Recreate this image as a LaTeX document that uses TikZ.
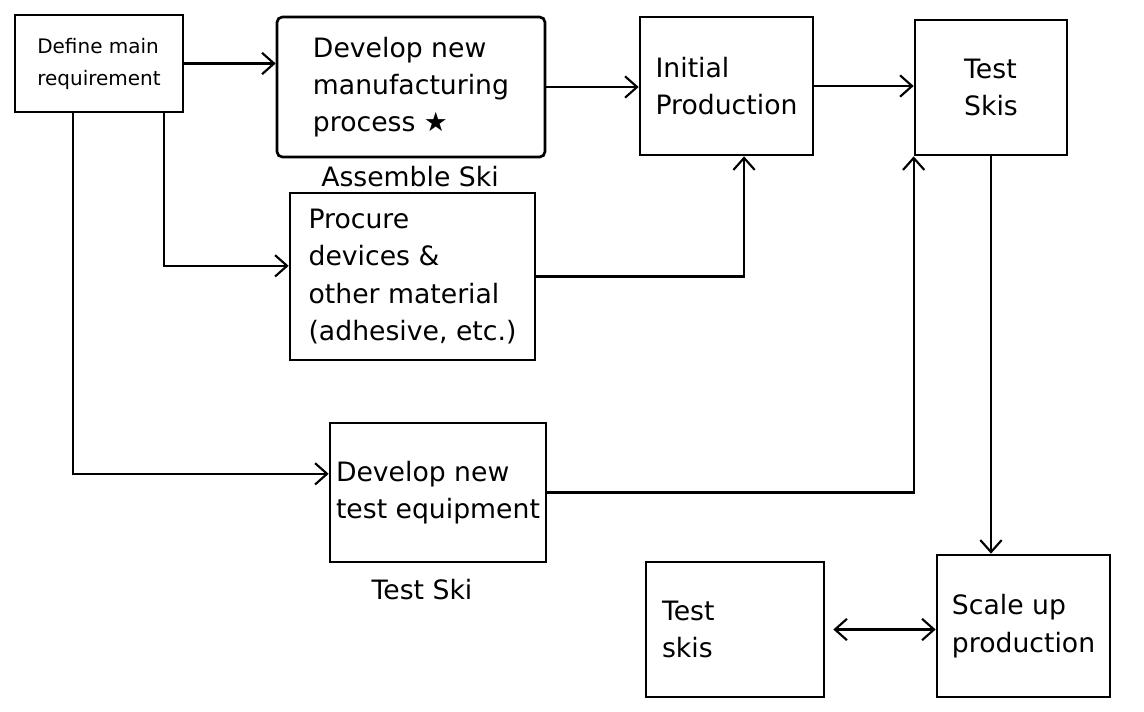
\documentclass[tikz,border=0pt]{standalone}
\usepackage{fontspec}
\setmainfont{DejaVu Sans}
\usetikzlibrary{arrows.meta,calc}

\tikzset{
  box/.style={draw, line width=2pt, align=left, inner sep=4pt,
    font=\fontsize{20}{28}\selectfont},
  flow/.style={line width=1.6pt, -{Straight Barb[length=9pt,width=16pt,line width=1.6pt]}},
  twoway/.style={line width=1.6pt, {Straight Barb[length=9pt,width=16pt,line width=1.6pt]}-{Straight Barb[length=9pt,width=16pt,line width=1.6pt]}},
  note/.style={inner sep=0.75pt, font=\fontsize{20}{24}\selectfont}
}

\begin{document}
\begin{tikzpicture}[x=0.75pt,y=0.75pt,yscale=-1,xscale=1]
    \useasboundingbox (0,0) rectangle (1144,711);

    % Text Node
    \node [box, minimum width=126pt, minimum height=72.75pt, font=\fontsize{15}{24}\selectfont] (def) at (99,63.5) {Define main\\requirement};
    % Text Node
    \node [box, minimum width=201pt, minimum height=105pt, rounded corners=4pt] (mfg) at (411,87) {Develop new\\manufacturing\\process ★};
    % Text Node
    \node [box, minimum width=129.75pt, minimum height=103.5pt] (init) at (726.5,86) {Initial\\Production};
    % Text Node
    \node [box, minimum width=114pt, minimum height=101.25pt] (tstA) at (991,87.5) {Test\\Skis};
    % Text Node
    \node [box, minimum width=183.75pt, minimum height=125.25pt] (proc) at (412.5,276.5) {Procure\\devices \&\\other material\\(adhesive, etc.)};
    % Text Node
    \node [box, minimum width=162pt, minimum height=104.25pt] (eqp) at (438,492.5) {Develop new\\test equipment};
    % Text Node
    \node [box, text width=109.5pt, inner xsep=12pt, minimum height=101.25pt] (tstB) at (735,629.5) {Test\\skis};
    % Text Node
    \node [box, minimum width=129.75pt, minimum height=106.5pt] (scale) at (1023.5,626) {Scale up\\production};

    % Text Node
    \node [note] (asm) at (410,177) {Assemble Ski};
    % Text Node
    \node [note] (tski) at (422,590) {Test Ski};

    %Straight Lines
    \draw [flow] (def.east) -- (def.east -| mfg.west);
    \draw [flow] (mfg.east) -- (mfg.east -| init.west);
    \draw [flow] (init.east) -- (init.east -| tstA.west);
    \draw [flow] ($(def.south west)!0.88!(def.south east)$) |- ([yshift=-8pt]proc.west);
    \draw [flow] ($(def.south west)!0.35!(def.south east)$) |- ([yshift=-14pt]eqp.west);
    \draw [flow] (proc.east) -| ($(init.south west)!0.6!(init.south east)$);
    \draw [flow] (eqp.east) -| (tstA.south west);
    \draw [flow] (tstA.south) -- (tstA.south |- scale.north);
    \draw [twoway, shorten <=6pt] (tstB.east) -- (tstB.east -| scale.west);

\end{tikzpicture}
\end{document}
